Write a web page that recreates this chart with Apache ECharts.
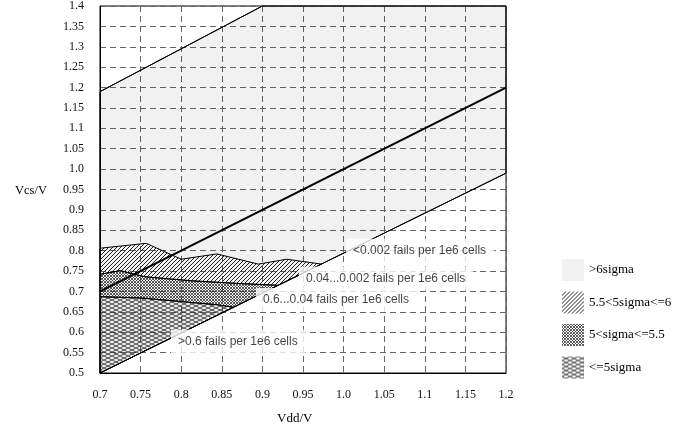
<!DOCTYPE html>
<html>
<head>
<meta charset="utf-8">
<script src="https://cdn.jsdelivr.net/npm/echarts@6/dist/echarts.min.js"></script>
<style>
html,body{margin:0;padding:0;background:#fff;}
#chart{width:676px;height:434px;}
</style>
</head>
<body>
<div id="chart"></div>
<script>
// ---- data ----
const xTickLabels = ['0.7','0.75','0.8','0.85','0.9','0.95','1.0','1.05','1.1','1.15','1.2'];
const yTickLabels = ['0.5','0.55','0.6','0.65','0.7','0.75','0.8','0.85','0.9','0.95','1.0','1.05','1.1','1.15','1.2','1.25','1.3','1.35','1.4'];

// reference lines
const vcsEqVdd = [[0.7, 0.7], [1.2, 1.2]];
const upperLimit = [[0.7, 1.19], [0.9, 1.4]];
const lowerLimit = [[0.7, 0.5], [1.2, 0.99]];

// >6sigma band (between lower and upper limit)
const band6 = [[0.7, 0.5], [1.2, 0.99], [1.2, 1.4], [0.9, 1.4], [0.7, 1.19]];
// boundaries of sigma regions (each ends on the lower limit line)
const bound6 = [[0.7, 0.806], [0.757, 0.818], [0.80, 0.779], [0.844, 0.792], [0.895, 0.767], [0.93, 0.779], [0.973, 0.767]];
const bound55 = [[0.7, 0.742], [0.725, 0.751], [0.755, 0.736], [0.813, 0.726], [0.866, 0.72], [0.919, 0.715]];
const bound5 = [[0.7, 0.687], [0.75, 0.684], [0.846, 0.667], [0.864, 0.661]];
const origin = [[0.7, 0.5]];

const legendNames = ['>6sigma', '5.5<5sigma<=6', '5<sigma<=5.5', '<=5sigma'];

const noteText = ['<0.002 fails per 1e6 cells', '0.04...0.002 fails per 1e6 cells', '0.6...0.04 fails per 1e6 cells', '>0.6 fails per 1e6 cells'];
const noteX = [1.003, 0.945, 0.892, 0.7874];
const noteY = [0.800, 0.732, 0.679, 0.577];

// ---- polygons built from boundaries ----
const polyDiag = bound6.concat(bound55.slice().reverse());
const polyMid = bound55.concat(bound5.slice().reverse());
const polyLow = bound5.concat(origin);

// ---- patterns ----
function makePattern(w, h, color, lw, draw) {
  const c = document.createElement('canvas');
  c.width = w; c.height = h;
  const ctx = c.getContext('2d');
  ctx.strokeStyle = color; ctx.lineWidth = lw;
  draw(ctx, w, h);
  return { image: c, repeat: 'repeat' };
}
function slash(ctx, w, h) {
  for (const o of [-w, 0, w]) { ctx.beginPath(); ctx.moveTo(o, h); ctx.lineTo(o + w, 0); ctx.stroke(); }
}
function back(ctx, w, h) {
  for (const o of [-w, 0, w]) { ctx.beginPath(); ctx.moveTo(o, 0); ctx.lineTo(o + w, h); ctx.stroke(); }
}
const patDiag = makePattern(4, 4, '#222', 1, slash);
const patCross = makePattern(3, 3, '#333', 0.8, (c, w, h) => { slash(c, w, h); back(c, w, h); });
const patMesh = makePattern(8, 4, '#333', 0.9, (c, w, h) => { slash(c, w, h); back(c, w, h); });

function polySeries(name, pts, color, strokeColor) {
  return {
    type: 'custom', name: name, silent: true,
    data: pts,
    itemStyle: { color: color },
    renderItem: function (params, api) {
      if (params.dataIndex !== 0) return null;
      const p = pts.map(v => api.coord(v));
      return {
        type: 'polygon',
        shape: { points: p },
        style: { fill: api.visual('color'), stroke: strokeColor, lineWidth: 1 }
      };
    }
  };
}
function lineSeries(pts, w) {
  return { type: 'line', data: pts, symbol: 'none', silent: true,
    lineStyle: { color: '#000', width: w }, z: 3, animation: false };
}

const chart = echarts.init(document.getElementById('chart'), null, { renderer: 'canvas' });
const serif = 'Liberation Serif';
const option = {
  animation: false,
  backgroundColor: '#fff',
  grid: { left: 100, right: 170, top: 6, bottom: 61, show: true, borderColor: '#000', borderWidth: 1 },
  xAxis: {
    type: 'value', min: 0.7, max: 1.2, interval: 0.05,
    axisLine: { show: true, lineStyle: { color: '#000' } },
    axisTick: { show: false },
    axisLabel: { margin: 16, fontFamily: serif, fontSize: 12, color: '#111',
      formatter: (v, i) => xTickLabels[i] },
    splitLine: { show: true, lineStyle: { color: '#666', type: [6, 4], width: 1 } }
  },
  yAxis: {
    type: 'value', min: 0.5, max: 1.4, interval: 0.05,
    axisLine: { show: true, lineStyle: { color: '#000' } },
    axisTick: { show: false },
    axisLabel: { margin: 16, fontFamily: serif, fontSize: 12, color: '#111',
      formatter: (v, i) => yTickLabels[i] },
    splitLine: { show: true, lineStyle: { color: '#666', type: [6, 4], width: 1 } }
  },
  legend: {
    data: legendNames,
    orient: 'vertical', left: 557, top: 254,
    itemWidth: 22, itemHeight: 22, itemGap: 10.5,
    icon: 'rect', selectedMode: false,
    textStyle: { fontFamily: serif, fontSize: 13, color: '#000' }
  },
  graphic: [
    { type: 'text', left: 15, top: 184, style: { text: 'Vcs/V', font: '12.5px "Liberation Serif"', fill: '#000' } },
    { type: 'text', left: 277, top: 412, style: { text: 'Vdd/V', font: '13px "Liberation Serif"', fill: '#000' } }
  ],
  series: [
    polySeries(legendNames[0], band6, 'rgba(0,0,0,0.055)', '#000'),
    polySeries(legendNames[1], polyDiag, patDiag, '#000'),
    polySeries(legendNames[2], polyMid, patCross, '#000'),
    polySeries(legendNames[3], polyLow, patMesh, '#000'),
    lineSeries(upperLimit, 1),
    lineSeries(lowerLimit, 1),
    lineSeries(vcsEqVdd, 2),
    {
      type: 'scatter', silent: true, z: 10, symbolSize: 0,
      data: noteX.map((x, i) => [x, noteY[i], noteText[i]]),
      label: {
        show: true, position: 'right', distance: 0,
        formatter: p => p.data[2],
        backgroundColor: '#fff', padding: [6, 8, 6, 7],
        fontFamily: 'Liberation Sans', fontSize: 12, color: '#111'
      }
    }
  ]
};
chart.setOption(option);
</script>
</body>
</html>
